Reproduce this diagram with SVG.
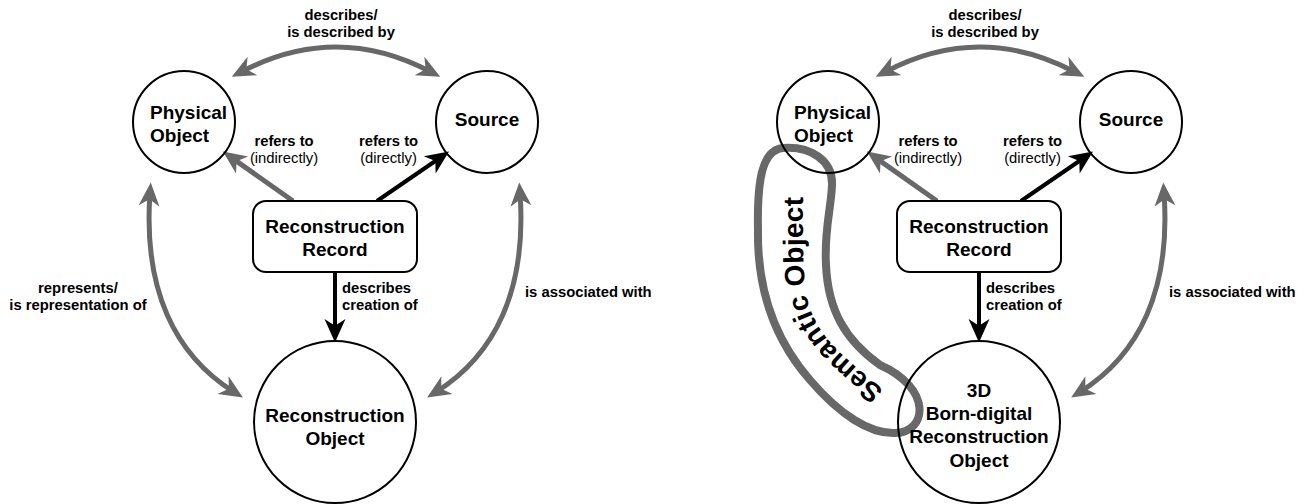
<svg xmlns="http://www.w3.org/2000/svg" width="1310" height="504" viewBox="0 0 1310 504">
<style>
.node{fill:none;stroke:#000;stroke-width:2}
.box{fill:#fff;stroke:#000;stroke-width:2}
.nt{font-family:"Liberation Sans",Arial,sans-serif;font-weight:bold;font-size:19px;fill:#000}
.lb{font-family:"Liberation Sans",Arial,sans-serif;font-weight:bold;font-size:14.8px;fill:#000}
.lr{font-family:"Liberation Sans",Arial,sans-serif;font-weight:normal;font-size:14.8px;fill:#000}
.g{fill:none;stroke:#686868;stroke-width:5}
.b{fill:none;stroke:#000;stroke-width:4}
.c{text-anchor:middle}
.blob{fill:none;stroke:#686868;stroke-width:8}
.sem{font-family:"Liberation Sans",Arial,sans-serif;font-weight:bold;font-size:28px;fill:#000;letter-spacing:0.3px}
</style>
<defs>
<marker id="ag" markerUnits="userSpaceOnUse" markerWidth="32" markerHeight="32" viewBox="-14 -11 26 22" refX="0" refY="0" orient="auto-start-reverse">
<path d="M8.5,0 L-10.5,-8.5 L-5,0 L-10.5,8.5 Z" fill="#686868"/>
</marker>
<marker id="ab" markerUnits="userSpaceOnUse" markerWidth="32" markerHeight="32" viewBox="-14 -11 26 22" refX="0" refY="0" orient="auto">
<path d="M8.5,0 L-10.5,-8.5 L-5,0 L-10.5,8.5 Z" fill="#000"/>
</marker>
<path id="semPath" d="M 884,390 C 850,362 812,335 806,292 C 802,265 803,235 803,140"/>
</defs>

<!-- semantic object outline -->
<g id="semantic-object">
<path class="blob" d="M 783,148 C 810,146 833,160 832,185 C 831,210 824,230 826,265 C 828,310 845,340 880,365 C 932,388 928,432 895,433 C 870,434 840,415 810,380 C 775,340 757,290 758,230 C 757,180 762,150 783,148 Z"/>
<text class="sem"><textPath href="#semPath">Semantic Object</textPath></text>
</g>

<g id="connectors">
<!-- left panel -->
<path class="g" d="M 241,72 Q 336,22 431,72" marker-start="url(#ag)" marker-end="url(#ag)"/>
<path class="g" d="M150,193 C 143,290 175,355 234,392" marker-start="url(#ag)" marker-end="url(#ag)"/>
<path class="g" d="M520,193 C 527,290 495,355 436,392" marker-start="url(#ag)" marker-end="url(#ag)"/>
<path class="g" d="M293,201 L231.5,157.6" marker-end="url(#ag)"/>
<path class="b" d="M377,201 L440.4,157.5" marker-end="url(#ab)"/>
<path class="b" d="M335,272 L335,332" marker-end="url(#ab)"/>
<!-- right panel -->
<path class="g" d="M 885,72 Q 980,22 1075,72" marker-start="url(#ag)" marker-end="url(#ag)"/>
<path class="g" d="M1164,193 C 1171,290 1139,355 1080,392" marker-start="url(#ag)" marker-end="url(#ag)"/>
<path class="g" d="M937,201 L875.5,157.6" marker-end="url(#ag)"/>
<path class="b" d="M1021,201 L1084.4,157.5" marker-end="url(#ab)"/>
<path class="b" d="M979,272 L979,332" marker-end="url(#ab)"/>
</g>

<g id="labels">
<text class="lb c" x="341" y="20">describes/</text>
<text class="lb c" x="341" y="37">is described by</text>
<text class="lb c" x="284" y="146">refers to</text>
<text class="lr c" x="284" y="163">(indirectly)</text>
<text class="lb c" x="388.5" y="146">refers to</text>
<text class="lr c" x="388.5" y="163">(directly)</text>
<text class="lb c" x="78" y="293">represents/</text>
<text class="lb c" x="78" y="310">is representation of</text>
<text class="lb" x="525" y="297">is associated with</text>
<text class="lb" x="342" y="293">describes</text>
<text class="lb" x="342" y="310">creation of</text>

<text class="lb c" x="985" y="20">describes/</text>
<text class="lb c" x="985" y="37">is described by</text>
<text class="lb c" x="928" y="146">refers to</text>
<text class="lr c" x="928" y="163">(indirectly)</text>
<text class="lb c" x="1032.5" y="146">refers to</text>
<text class="lr c" x="1032.5" y="163">(directly)</text>
<text class="lb" x="1169" y="297">is associated with</text>
<text class="lb" x="986" y="293">describes</text>
<text class="lb" x="986" y="310">creation of</text>
</g>

<!-- left panel nodes -->
<g id="physical-object-1">
<circle class="node" cx="184" cy="122" r="51"/>
<text class="nt" x="150" y="119">Physical</text>
<text class="nt" x="150" y="142">Object</text>
</g>
<g id="source-1">
<circle class="node" cx="487" cy="122" r="51"/>
<text class="nt c" x="487" y="126">Source</text>
</g>
<g id="reconstruction-record-1">
<rect class="box" x="253" y="201" width="164" height="71" rx="13"/>
<text class="nt c" x="335" y="233">Reconstruction</text>
<text class="nt c" x="335" y="256">Record</text>
</g>
<g id="reconstruction-object-1">
<circle class="node" cx="335" cy="422" r="81"/>
<text class="nt c" x="335" y="422">Reconstruction</text>
<text class="nt c" x="335" y="445">Object</text>
</g>

<!-- right panel nodes -->
<g id="physical-object-2">
<circle class="node" cx="828" cy="122" r="51"/>
<text class="nt" x="794" y="119">Physical</text>
<text class="nt" x="794" y="142">Object</text>
</g>
<g id="source-2">
<circle class="node" cx="1131" cy="122" r="51"/>
<text class="nt c" x="1131" y="126">Source</text>
</g>
<g id="reconstruction-record-2">
<rect class="box" x="897" y="201" width="164" height="71" rx="13"/>
<text class="nt c" x="979" y="233">Reconstruction</text>
<text class="nt c" x="979" y="256">Record</text>
</g>
<g id="born-digital-object">
<circle class="node" cx="979" cy="422" r="81"/>
<text class="nt c" x="979" y="397">3D</text>
<text class="nt c" x="979" y="420">Born-digital</text>
<text class="nt c" x="979" y="443">Reconstruction</text>
<text class="nt c" x="979" y="467">Object</text>
</g>
</svg>
